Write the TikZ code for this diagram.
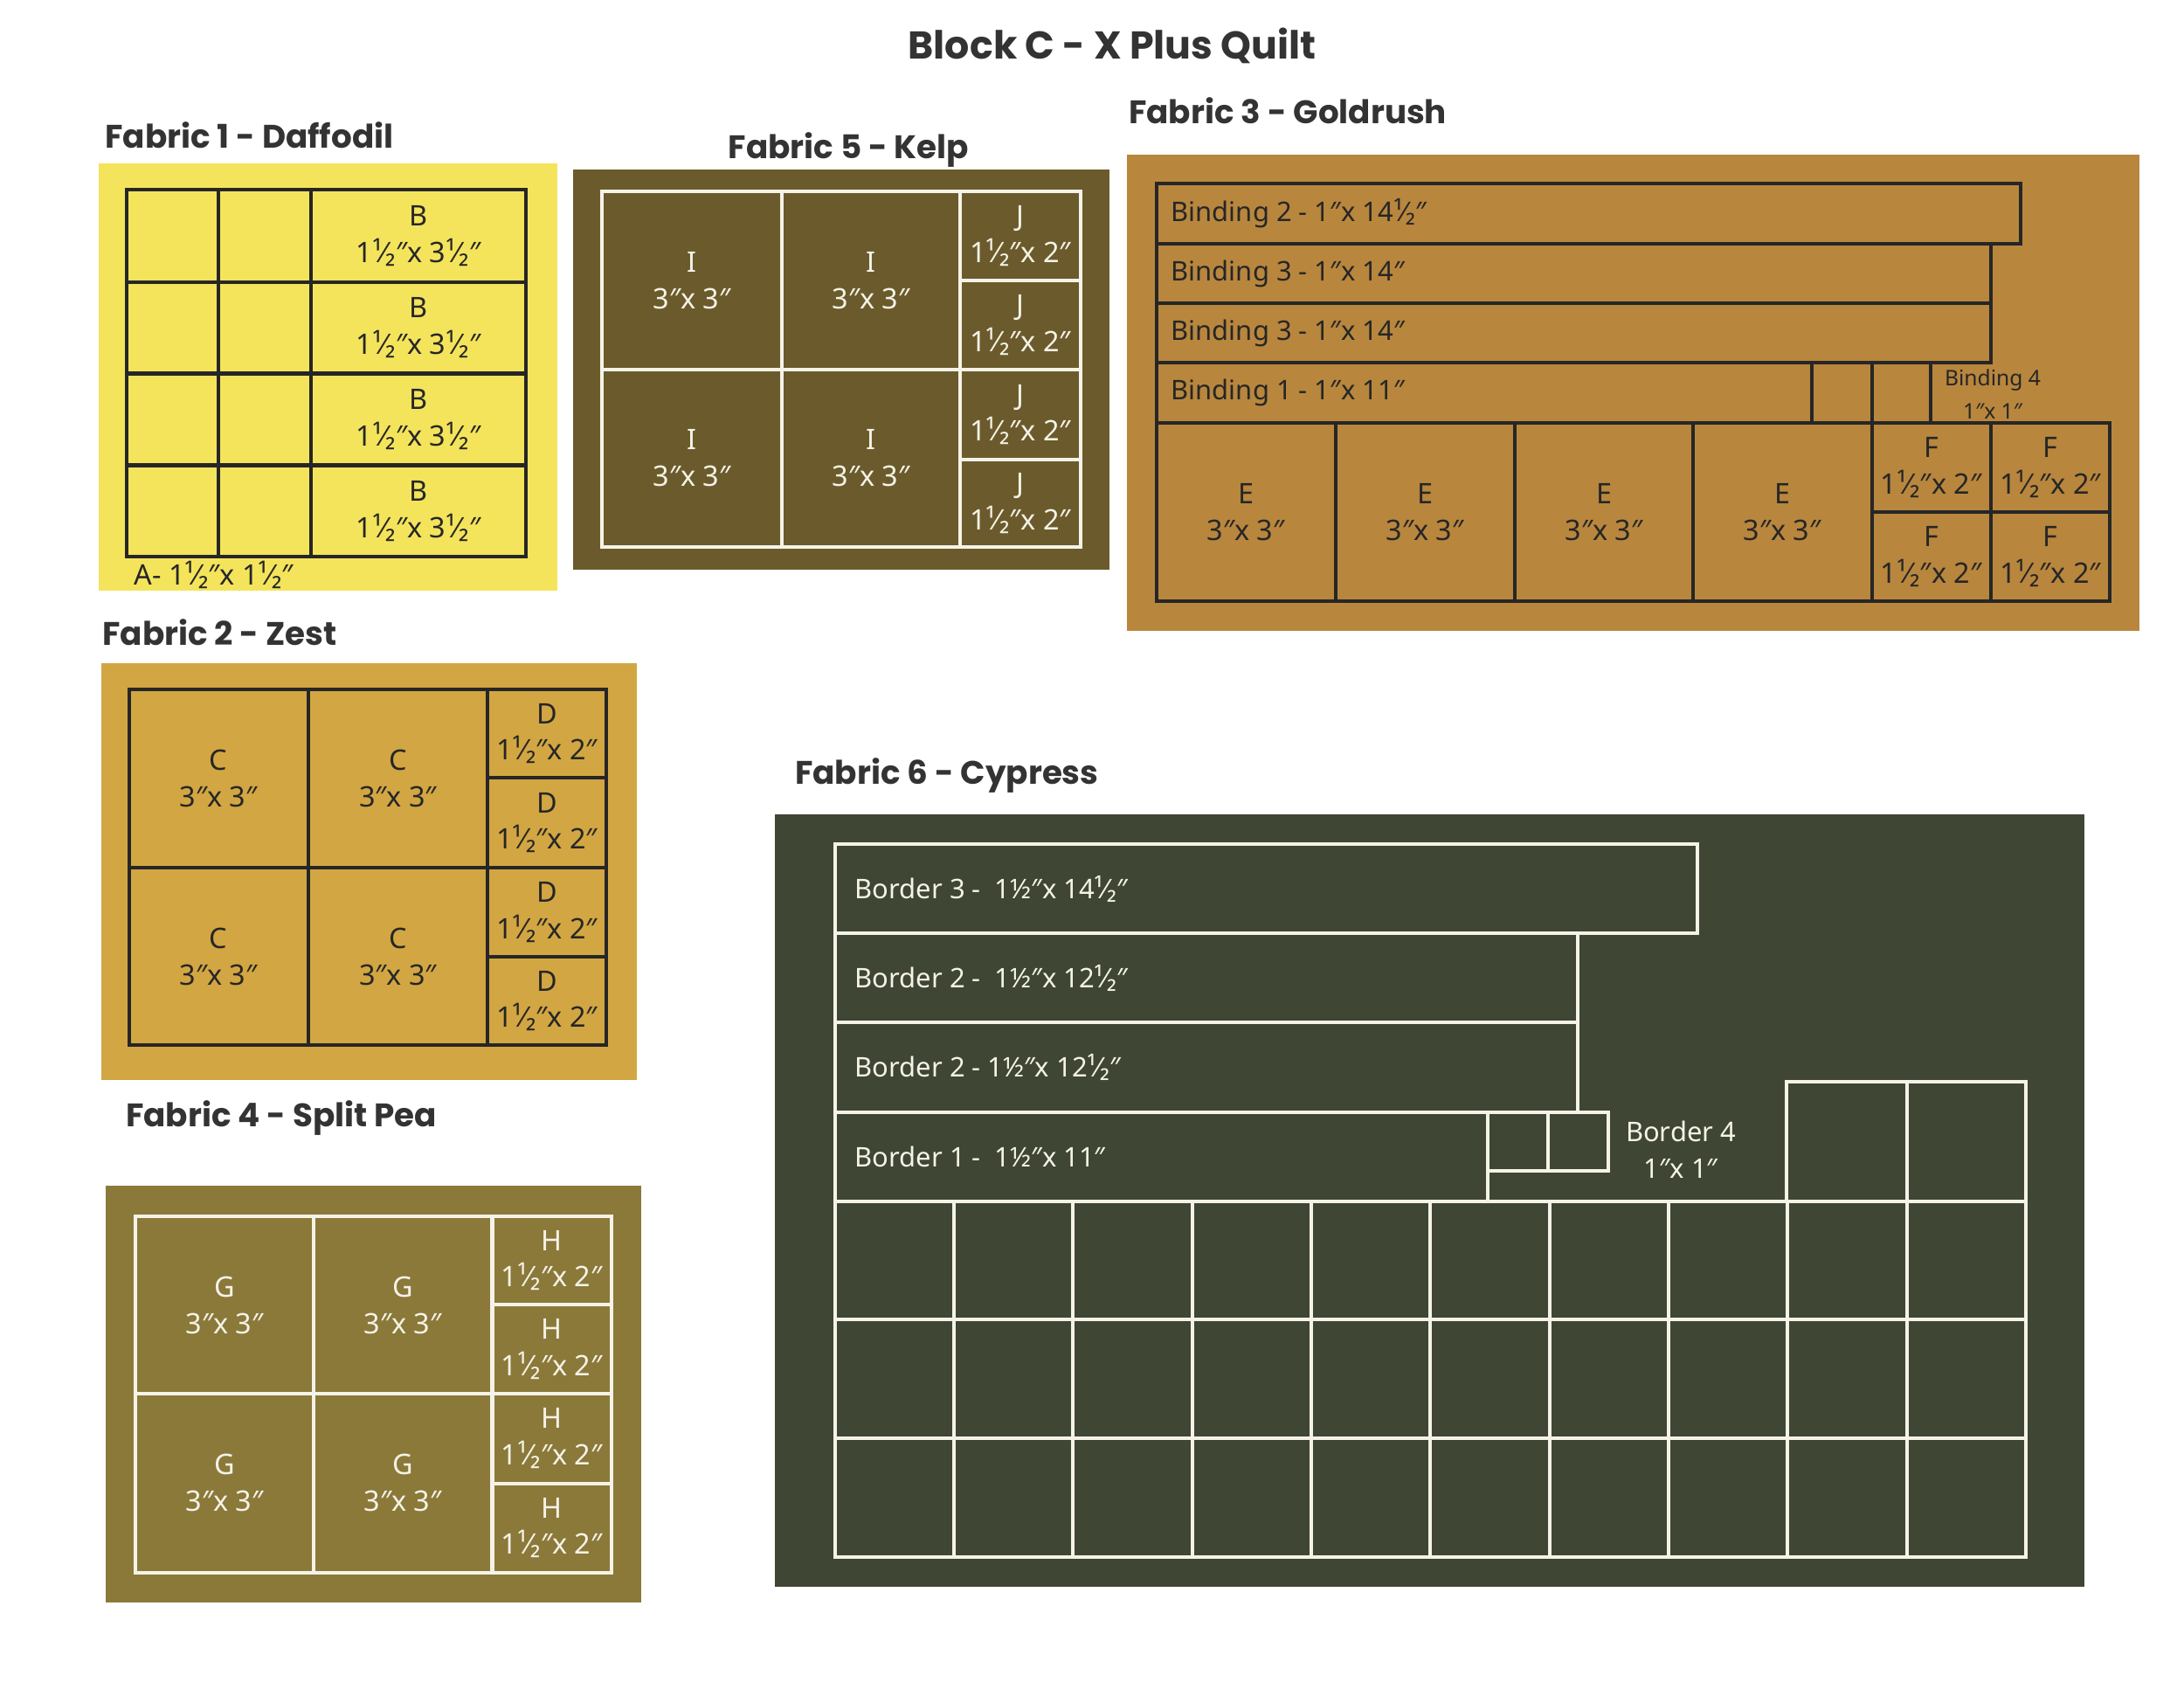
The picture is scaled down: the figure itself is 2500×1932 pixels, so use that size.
\documentclass[tikz,border=0pt]{standalone}
\usepackage{fontspec}
\newfontfamily\headfont{Poppins}
\newfontfamily\lblfont{Noto Sans}
\definecolor{daffodil}{HTML}{F4E45C}
\definecolor{kelp}{HTML}{6B5B2C}
\definecolor{goldrush}{HTML}{B8863D}
\definecolor{zest}{HTML}{D2A642}
\definecolor{splitpea}{HTML}{8B793A}
\definecolor{cypress}{HTML}{3F4633}
\definecolor{ink}{HTML}{262626}
\definecolor{cream}{HTML}{F5F3E8}
\definecolor{headgray}{HTML}{333333}
\tikzset{
  dk/.style={draw=ink, line width=1.15pt},
  wt/.style={draw=cream, line width=1.15pt},
  lbl/.style={font=\lblfont\fontsize{9.2}{11.9}\selectfont, align=center, inner sep=0pt},
  lblk/.style={lbl, text=ink},
  lblw/.style={lbl, text=cream},
  longlbl/.style={font=\lblfont\fontsize{8.8}{11.9}\selectfont, anchor=west, inner sep=0pt},
  head/.style={font=\headfont\bfseries\fontsize{10.6}{12}\selectfont, anchor=base west, text=headgray, inner sep=0pt},
  bigtitle/.style={font=\headfont\bfseries\fontsize{12.6}{16}\selectfont, anchor=base west, text=headgray, inner sep=0pt},
}
\begin{document}
\begin{tikzpicture}[x=0.01cm,y=-0.01cm]
\useasboundingbox[fill=white] (0,0) rectangle (2500,1932);

% Title
\node[bigtitle] (title) at (1039,67) {Block C - X Plus Quilt};

% ---------- Fabric 1 - Daffodil ----------
\node[head] (h1) at (119.6,169) {Fabric 1 - Daffodil};
\fill[daffodil] (112.5,187) rectangle (637.5,676);
\draw[dk] (144.6,217) rectangle (602,637);
\foreach \x in {250,356} \draw[dk] (\x,217) -- (\x,637);
\foreach \y in {323,427.5,532.5} \draw[dk] (144.6,\y) -- (602,\y);
\foreach \y/\n in {270/1,375/2,480/3,585/4}
  \node[lblk] (b\n) at (479,\y) {B\\1¹⁄₂″x 3¹⁄₂″};
\node[lblk, anchor=west] (a1) at (153,658) {A- 1¹⁄₂″x 1¹⁄₂″};

% ---------- Fabric 5 - Kelp ----------
\node[head] (h5) at (833,181.6) {Fabric 5 - Kelp};
\fill[kelp] (656,194) rectangle (1270,652);
\draw[wt] (689,219) rectangle (1237,626);
\foreach \x in {895,1099} \draw[wt] (\x,219) -- (\x,626);
\draw[wt] (689,423) -- (1237,423);
\foreach \y in {321,526} \draw[wt] (1099,\y) -- (1237,\y);
\foreach \x/\y/\n in {792/321/1,997/321/2,792/524.5/3,997/524.5/4}
  \node[lblw] (i\n) at (\x,\y) {I\\3″x 3″};
\foreach \y/\n in {270/1,372/2,474.5/3,576/4}
  \node[lblw] (j\n) at (1168,\y) {J\\1¹⁄₂″x 2″};

% ---------- Fabric 3 - Goldrush ----------
\node[head] (h3) at (1291.5,141) {Fabric 3 - Goldrush};
\fill[goldrush] (1290,177) rectangle (2449,722);
\draw[dk] (1323.6,210) rectangle (2313,279);
\draw[dk] (1323.6,279) rectangle (2279,347);
\draw[dk] (1323.6,347) rectangle (2279,415);
\draw[dk] (1323.6,415) rectangle (2074,484);
\draw[dk] (2074,415) rectangle (2142.5,484);
\draw[dk] (2142.5,415) rectangle (2210,484);
\draw[dk] (1323.6,484) rectangle (2142.5,688);
\foreach \x in {1528.7,1733.8,1938.2} \draw[dk] (\x,484) -- (\x,688);
\draw[dk] (2142.5,484) rectangle (2415,688);
\draw[dk] (2279,484) -- (2279,688);
\draw[dk] (2142.5,586) -- (2415,586);
\node[longlbl, text=ink] (bd2) at (1340,244.5) {Binding 2 - 1″x 14¹⁄₂″};
\node[longlbl, text=ink] (bd3a) at (1340,313) {Binding 3 - 1″x 14″};
\node[longlbl, text=ink] (bd3b) at (1340,381) {Binding 3 - 1″x 14″};
\node[longlbl, text=ink] (bd1) at (1340,449.5) {Binding 1 - 1″x 11″};
\node[lbl, text=ink, font=\lblfont\fontsize{7.0}{10.9}\selectfont] (bd4) at (2281,451) {Binding 4\\1″x 1″};
\foreach \x/\n in {1426/1,1631/2,1836/3,2040/4}
  \node[lblk] (e\n) at (\x,586) {E\\3″x 3″};
\foreach \x/\y/\n in {2210.5/535/1,2347/535/2,2210.5/637/3,2347/637/4}
  \node[lblk] (f\n) at (\x,\y) {F\\1¹⁄₂″x 2″};

% ---------- Fabric 2 - Zest ----------
\node[head] (h2) at (116.6,738) {Fabric 2 - Zest};
\fill[zest] (116,759) rectangle (728.5,1236);
\draw[dk] (147.7,789) rectangle (693.7,1196);
\foreach \x in {353,558} \draw[dk] (\x,789) -- (\x,1196);
\draw[dk] (147.7,993) -- (693.7,993);
\foreach \y in {890,1095} \draw[dk] (558,\y) -- (693.7,\y);
\foreach \x/\y/\n in {250/891/1,455.5/891/2,250/1094.7/3,455.5/1094.7/4}
  \node[lblk] (c\n) at (\x,\y) {C\\3″x 3″};
\foreach \y/\n in {839.5/1,941.5/2,1044/3,1145.5/4}
  \node[lblk] (d\n) at (626,\y) {D\\1¹⁄₂″x 2″};

% ---------- Fabric 4 - Split Pea ----------
\node[head] (h4) at (143.5,1289) {Fabric 4 - Split Pea};
\fill[splitpea] (121,1357) rectangle (734,1834);
\draw[wt] (155,1392) rectangle (700,1799.5);
\foreach \x in {359,563.5} \draw[wt] (\x,1392) -- (\x,1799.5);
\draw[wt] (155,1595) -- (700,1595);
\foreach \y in {1493,1697.5} \draw[wt] (563.5,\y) -- (700,\y);
\foreach \x/\y/\n in {257/1493.5/1,461/1493.5/2,257/1697/3,461/1697/4}
  \node[lblw] (g\n) at (\x,\y) {G\\3″x 3″};
\foreach \y/\n in {1442.5/1,1544/2,1646/3,1748.5/4}
  \node[lblw] (hh\n) at (631.7,\y) {H\\1¹⁄₂″x 2″};

% ---------- Fabric 6 - Cypress ----------
\node[head] (h6) at (909.5,897) {Fabric 6 - Cypress};
\fill[cypress] (887,932) rectangle (2386,1816);
\draw[wt] (955.6,965.7) rectangle (1943,1068);
\draw[wt] (955.6,1068) rectangle (1806,1170);
\draw[wt] (955.6,1170) rectangle (1806,1272.7);
\draw[wt] (955.6,1272.7) rectangle (1703,1375);
\draw[wt] (1703,1272.7) rectangle (1772,1340);
\draw[wt] (1772,1272.7) rectangle (1841,1340);
\draw[wt] (2045,1237.6) rectangle (2182.6,1375);
\draw[wt] (2182.6,1237.6) rectangle (2319,1375);
\draw[wt] (955.6,1375) rectangle (2319,1782);
\foreach \k in {1,...,9} \draw[wt] ({955.6+136.34*\k},1375) -- ({955.6+136.34*\k},1782);
\foreach \y in {1510,1646} \draw[wt] (955.6,\y) -- (2319,\y);
\node[longlbl, text=cream] (br3) at (978,1017) {Border 3 -\ \ 1½″x 14¹⁄₂″};
\node[longlbl, text=cream] (br2a) at (978,1119) {Border 2 -\ \ 1½″x 12¹⁄₂″};
\node[longlbl, text=cream] (br2b) at (978,1221) {Border 2 - 1½″x 12¹⁄₂″};
\node[longlbl, text=cream] (br1) at (978,1324) {Border 1 -\ \ 1½″x 11″};
\node[lbl, text=cream, font=\lblfont\fontsize{8.8}{11.9}\selectfont] (br4) at (1924,1316) {Border 4\\1″x 1″};
\end{tikzpicture}
\end{document}
